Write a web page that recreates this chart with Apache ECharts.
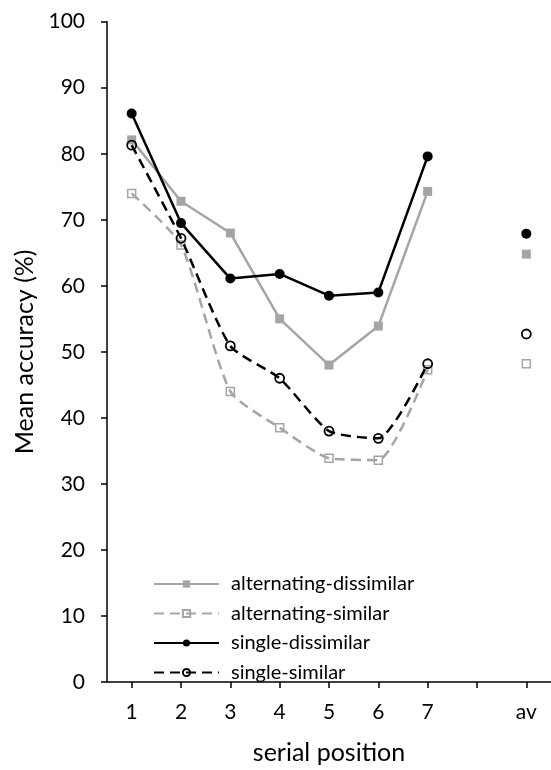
<!DOCTYPE html>
<html>
<head>
<meta charset="utf-8">
<script src="https://cdn.jsdelivr.net/npm/echarts@6/dist/echarts.min.js"></script>
<style>
  html, body { margin: 0; padding: 0; background: #fff; }
  #chart { width: 551px; height: 770px; }
</style>
</head>
<body>
<div id="chart"></div>
<script>
// Serial positions 1–7, an empty spacer slot, then the average ("av")
const positions = ['1', '2', '3', '4', '5', '6', '7', '', 'av'];

const altDissimilar = [82.1, 72.8, 68.0, 55.0, 48.0, 53.9, 74.3, null, 64.8];
const altSimilar    = [74.0, 66.2, 44.0, 38.5, 33.9, 33.6, 47.3, null, 48.2];
const singleDissimilar = [86.1, 69.5, 61.1, 61.8, 58.5, 59.0, 79.6, null, 67.9];
const singleSimilar    = [81.3, 67.2, 50.9, 46.0, 38.0, 36.9, 48.2, null, 52.7];

const yTicks = { min: 0, max: 100, step: 10 };

const GREY = '#A5A5A5';
const BLACK = '#000000';
const FONT = 'Lato';

const chart = echarts.init(document.getElementById('chart'), null, { renderer: 'canvas' });

function lineSeries(name, data, opts) {
  return {
    name: name,
    type: 'line',
    data: data,
    connectNulls: false,
    smooth: opts.smooth || false,
    symbol: opts.symbol,
    symbolSize: opts.size,
    showSymbol: true,
    z: opts.z,
    lineStyle: { color: opts.color, width: 2.5, type: opts.dash || 'solid' },
    itemStyle: {
      color: opts.fill,
      borderColor: opts.color,
      borderWidth: opts.border || 0
    },
    emphasis: { disabled: true }
  };
}

chart.setOption({
  animation: false,
  backgroundColor: '#fff',
  grid: { left: 107, top: 21.7, bottom: 84, right: -6, containLabel: false },
  xAxis: {
    type: 'category',
    data: positions,
    boundaryGap: true,
    name: 'serial position',
    nameLocation: 'middle',
    nameGap: 58,
    nameTextStyle: { fontFamily: FONT, fontSize: 25, color: BLACK },
    axisLine: { lineStyle: { color: BLACK, width: 1.5 } },
    axisTick: { show: true, alignWithLabel: true, interval: 0, length: 6, lineStyle: { color: BLACK, width: 1.5 } },
    axisLabel: { interval: 0, margin: 20, fontFamily: FONT, fontSize: 21, color: BLACK },
    splitLine: { show: false }
  },
  yAxis: {
    type: 'value',
    min: yTicks.min,
    max: yTicks.max,
    interval: yTicks.step,
    name: 'Mean accuracy (%)',
    nameLocation: 'middle',
    nameGap: 60,
    nameRotate: 90,
    nameTextStyle: { fontFamily: FONT, fontSize: 25, color: BLACK },
    axisLine: { show: true, lineStyle: { color: BLACK, width: 1.5 } },
    axisTick: { show: true, length: 6, lineStyle: { color: BLACK, width: 1.5 } },
    axisLabel: { margin: 22, fontFamily: FONT, fontSize: 21, color: BLACK },
    splitLine: { show: false }
  },
  legend: {
    orient: 'vertical',
    left: 148,
    top: 568,
    itemWidth: 65,
    itemHeight: 9,
    itemGap: 7.5,
    textStyle: { fontFamily: FONT, fontSize: 20, color: BLACK, lineHeight: 22, padding: [0, 0, 0, 7] },
    data: ['alternating-dissimilar', 'alternating-similar', 'single-dissimilar', 'single-similar']
  },
  series: [
    lineSeries('alternating-dissimilar', altDissimilar, {
      color: GREY, fill: GREY, symbol: 'rect', size: 9, z: 2
    }),
    lineSeries('alternating-similar', altSimilar, {
      color: GREY, fill: 'rgba(255,255,255,0)', symbol: 'rect', size: 8, border: 1.5,
      dash: [10, 6], smooth: 0.2, z: 2
    }),
    lineSeries('single-dissimilar', singleDissimilar, {
      color: BLACK, fill: BLACK, symbol: 'circle', size: 10, z: 3
    }),
    lineSeries('single-similar', singleSimilar, {
      color: BLACK, fill: 'rgba(255,255,255,0)', symbol: 'circle', size: 9, border: 1.8,
      dash: [10, 6], smooth: 0.2, z: 3
    })
  ]
});
</script>
</body>
</html>
